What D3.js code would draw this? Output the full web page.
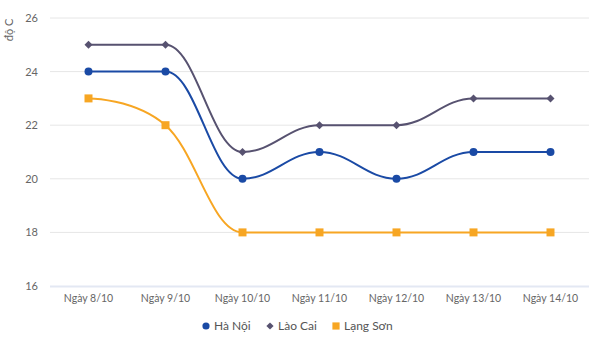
<!DOCTYPE html>
<html><head><meta charset="utf-8">
<script src="https://cdn.jsdelivr.net/npm/d3@7"></script>
<style>body{margin:0;background:#fff}svg{display:block}text{font-family:Lato,"Noto Sans",sans-serif}</style>
</head><body><svg id="c" width="600" height="338"></svg>
<script>
const categories = ["Ngày 8/10","Ngày 9/10","Ngày 10/10","Ngày 11/10","Ngày 12/10","Ngày 13/10","Ngày 14/10"];
const haNoi = [24,24,20,21,20,21,21];
const laoCai = [25,25,21,22,22,23,23];
const langSon = [23,22,18,18,18,18,18];
const yTicks = [16,18,20,22,24,26];
const seriesNames = ["Hà Nội","Lào Cai","Lạng Sơn"];
const colors = ["#1a4aa5","#575270","#f7a623"];

const svg = d3.select("#c");
const x = d3.scaleBand().domain(categories).range([50,589]);
const y = d3.scaleLinear().domain([16,26]).range([286,18]);

svg.append("g").selectAll("line").data(yTicks.slice(1)).join("line")
  .attr("x1",50).attr("x2",589).attr("y1",d=>y(d)).attr("y2",d=>y(d))
  .attr("stroke","#e6e6e6").attr("stroke-width",1);
svg.append("line").attr("x1",50).attr("x2",589).attr("y1",y(16)+0.5).attr("y2",y(16)+0.5)
  .attr("stroke","#e3e8f3").attr("stroke-width",2);

svg.append("g").selectAll("text").data(yTicks).join("text")
  .attr("x",38).attr("y",d=>y(d)+4).attr("text-anchor","end")
  .attr("font-size",11).attr("fill","#666").text(d=>d);
svg.append("text").attr("transform","translate(13,30) rotate(-90)").attr("text-anchor","middle")
  .attr("font-size",11).attr("fill","#666").text("độ C");

svg.append("g").selectAll("text").data(categories).join("text")
  .attr("x",d=>x(d)+x.bandwidth()/2).attr("y",302).attr("text-anchor","middle")
  .attr("font-size",10.5).attr("fill","#666").text(d=>d);

function splinePath(pts){
  const sm=1.5, den=sm+1;
  const cont = pts.map(()=>({}));
  let p = `M${pts[0][0]},${pts[0][1]}`;
  for(let i=1;i<pts.length;i++){
    const [px,py]=pts[i];
    let lcx,lcy,rcx,rcy;
    if(i<pts.length-1){
      const [lx,ly]=pts[i-1],[nx,ny]=pts[i+1];
      lcx=(sm*px+lx)/den; lcy=(sm*py+ly)/den;
      rcx=(sm*px+nx)/den; rcy=(sm*py+ny)/den;
      if(rcx!==lcx){
        const corr=((rcy-lcy)*(rcx-px))/(rcx-lcx)+py-rcy;
        lcy+=corr; rcy+=corr;
      }
      if(lcy>Math.max(ly,py)){lcy=Math.max(ly,py);rcy=2*py-lcy;}
      else if(lcy<Math.min(ly,py)){lcy=Math.min(ly,py);rcy=2*py-lcy;}
      if(rcy>Math.max(py,ny)){rcy=Math.max(py,ny);lcy=2*py-rcy;}
      else if(rcy<Math.min(py,ny)){rcy=Math.min(py,ny);lcy=2*py-rcy;}
      cont[i]={rcx,rcy};
    }
    const prev=pts[i-1], pc=cont[i-1];
    const c1x=pc.rcx!==undefined?pc.rcx:prev[0], c1y=pc.rcy!==undefined?pc.rcy:prev[1];
    const c2x=lcx!==undefined?lcx:px, c2y=lcy!==undefined?lcy:py;
    p+=`C${c1x},${c1y},${c2x},${c2y},${px},${py}`;
  }
  return p;
}

const diamond = r => `M0,${-r}L${r},0L0,${r}L${-r},0Z`;
const markers=[
  s=>d3.symbol(d3.symbolCircle, 50*s*s)(),
  s=>diamond(4*s),
  s=>d3.symbol(d3.symbolSquare, 64*s*s)()
];

const data=[haNoi,laoCai,langSon];
data.forEach((vals,si)=>{
  const pts=vals.map((v,i)=>[x(categories[i])+x.bandwidth()/2,y(v)]);
  svg.append("path").attr("d",splinePath(pts)).attr("fill","none")
    .attr("stroke",colors[si]).attr("stroke-width",2);
});
data.forEach((vals,si)=>{
  svg.append("g").selectAll("path").data(vals).join("path")
    .attr("transform",(v,i)=>`translate(${x(categories[i])+x.bandwidth()/2},${y(v)})`)
    .attr("d",markers[si](1)).attr("fill",colors[si]);
});

const lx=[206,270,336];
seriesNames.forEach((n,i)=>{
  svg.append("path").attr("transform",`translate(${lx[i]},326)`)
    .attr("d",markers[i](0.9)).attr("fill",colors[i]);
  svg.append("text").attr("x",lx[i]+8).attr("y",330).attr("font-size",12)
    .attr("fill","#555").text(n);
});
</script></body></html>
